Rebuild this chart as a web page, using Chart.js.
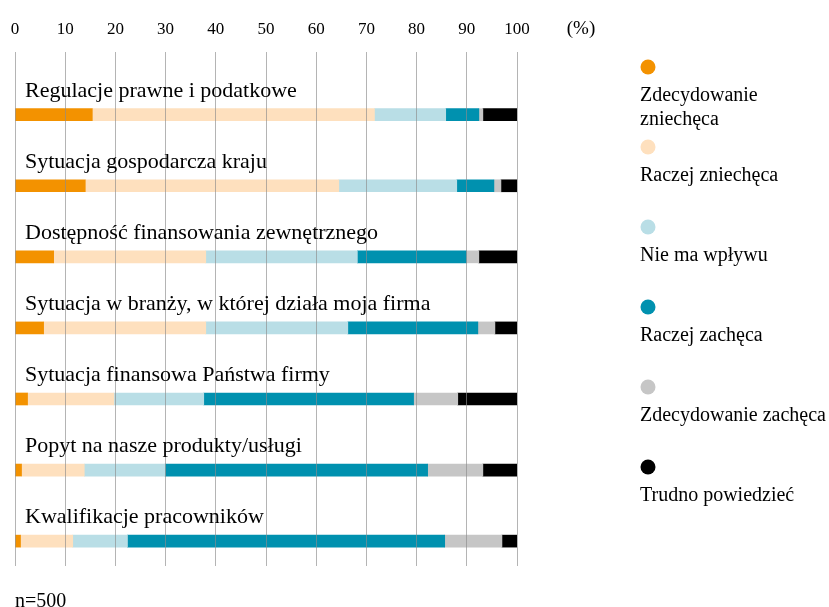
<!DOCTYPE html>
<html><head><meta charset="utf-8">
<script src="https://cdn.jsdelivr.net/npm/chart.js@4.4.0/dist/chart.umd.min.js"></script>
<style>html,body{margin:0;padding:0;background:#fff}#wrap{width:829px;height:607px;position:relative}canvas{display:block}</style>
</head><body><div id="wrap"><canvas id="c" width="829" height="607"></canvas></div>
<script>
const categories = [
  "Regulacje prawne i podatkowe",
  "Sytuacja gospodarcza kraju",
  "Dostępność finansowania zewnętrznego",
  "Sytuacja w branży, w której działa moja firma",
  "Sytuacja finansowa Państwa firmy",
  "Popyt na nasze produkty/usługi",
  "Kwalifikacje pracowników"
];
const seriesNames = ["Zdecydowanie zniechęca","Raczej zniechęca","Nie ma wpływu","Raczej zachęca","Zdecydowanie zachęca","Trudno powiedzieć"];
const zdecydowanieZniecheca = [15.4, 14.0, 7.7, 5.7, 2.5, 1.3, 1.1];
const raczejZniecheca      = [56.2, 50.5, 30.3, 32.3, 17.2, 12.5, 10.4];
const nieMaWplywu          = [14.2, 23.5, 30.2, 28.3, 17.9, 16.1, 10.9];
const raczejZacheca        = [6.6, 7.4, 21.7, 25.9, 41.8, 52.3, 63.2];
const zdecydowanieZacheca  = [0.8, 1.4, 2.5, 3.4, 8.8, 11.0, 11.4];
const trudnoPowiedziec     = [6.8, 3.2, 7.6, 4.4, 11.8, 6.8, 3.0];
const xTickValues = [0,10,20,30,40,50,60,70,80,90,100];
const unitLabel = "(%)";
const noteLabel = "n=500";

const seriesValues = [zdecydowanieZniecheca, raczejZniecheca, nieMaWplywu, raczejZacheca, zdecydowanieZacheca, trudnoPowiedziec];
const colors = ["#F39200", "#FEE0BE", "#B9DEE6", "#0091AF", "#C6C6C6", "#000000"];
const FONT = "'Liberation Serif', 'DejaVu Serif', serif";

const datasets = seriesNames.map((name, s) => ({
  label: name,
  data: seriesValues[s].map((v, i) => ({x: v, y: i})),
  backgroundColor: colors[s],
  borderWidth: 0,
  barThickness: 12
}));

const overlay = {
  id: 'overlay',
  afterDraw(chart) {
    const ctx = chart.ctx;
    const ys = chart.scales.y, xs = chart.scales.x;
    ctx.save();
    ctx.fillStyle = '#000';
    ctx.textBaseline = 'alphabetic';
    ctx.textAlign = 'left';
    ctx.font = "22px " + FONT;
    categories.forEach((c, i) => {
      ctx.fillText(c, xs.left + 10, ys.getPixelForValue(i) - 18);
    });
    // unit label
    ctx.font = "19px " + FONT;
    ctx.textAlign = 'center';
    ctx.fillText(unitLabel, 581, 34);
    // note
    ctx.textAlign = 'left';
    ctx.font = "20px " + FONT;
    ctx.fillText(noteLabel, 15, 607);
    // legend
    const lx = 640, dotX = 648, maxW = 188;
    let dotY = 67;
    ctx.font = "20px " + FONT;
    seriesNames.forEach((name, s) => {
      ctx.beginPath();
      ctx.fillStyle = colors[s];
      ctx.arc(dotX, dotY, 7.5, 0, Math.PI * 2);
      ctx.fill();
      ctx.fillStyle = '#000';
      const words = name.split(' ');
      const lines = [];
      let cur = '';
      words.forEach(w => {
        const t = cur ? cur + ' ' + w : w;
        if (ctx.measureText(t).width > maxW && cur) { lines.push(cur); cur = w; } else cur = t;
      });
      lines.push(cur);
      lines.forEach((ln, k) => ctx.fillText(ln, lx, dotY + 34 + k * 24));
      dotY += 80;
    });
    ctx.restore();
  }
};

new Chart(document.getElementById('c'), {
  type: 'bar',
  data: { datasets },
  options: {
    indexAxis: 'y',
    responsive: false,
    animation: false,
    devicePixelRatio: 1,
    layout: { padding: { left: 15, right: 312, top: 8, bottom: 41 } },
    plugins: { legend: { display: false }, tooltip: { enabled: false } },
    scales: {
      x: {
        type: 'linear', position: 'top', stacked: true, min: 0, max: 100,
        afterBuildTicks: (axis) => { axis.ticks = xTickValues.map(v => ({value: v})); },
        ticks: { color: '#000', font: { family: FONT, size: 17, lineHeight: 2.35 }, padding: 2, maxRotation: 0 },
        grid: { color: 'rgba(140,140,140,0.65)', drawTicks: false, z: 1, lineWidth: 1 },
        border: { display: false }
      },
      y: {
        type: 'linear', stacked: true, reverse: true, offset: false, min: -0.883, max: 6.35, display: false
      }
    }
  },
  plugins: [overlay]
});
</script></body></html>
